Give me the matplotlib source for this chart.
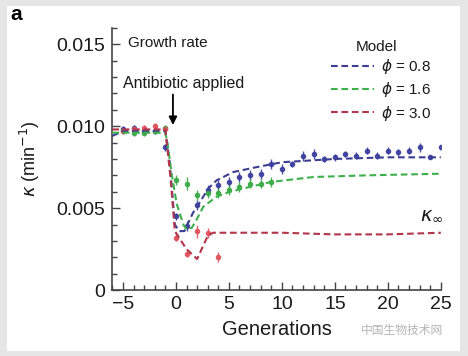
import matplotlib
matplotlib.use("Agg")
import matplotlib.pyplot as plt
from matplotlib.patches import Rectangle
from matplotlib.ticker import MultipleLocator

plt.rcParams['font.family'] = ['Liberation Sans', 'DejaVu Sans']
plt.rcParams['mathtext.fontset'] = 'dejavusans'

# ---- data ----
blue_gen = [-5, -4, -3, -2, -1, 0, 1, 2, 3, 4, 5, 6, 7, 8, 9, 10, 11, 12, 13, 14, 15,
            16, 17, 18, 19, 20, 21, 22, 23, 24, 25]
blue_val = [0.0098, 0.0099, 0.0097, 0.0097, 0.0087, 0.0045, 0.0039, 0.0052, 0.0061, 0.0064,
            0.0066, 0.0069, 0.0070, 0.0071, 0.0077, 0.0074, 0.0077, 0.0082, 0.0083, 0.0080,
            0.0081, 0.0083, 0.0082, 0.0085, 0.0082, 0.0085, 0.0084, 0.0085, 0.0087, 0.0081, 0.0087]
blue_err = [0.0002, 0.0002, 0.0002, 0.0002, 0.0002, 0.0002, 0.0003, 0.0003, 0.0003, 0.0003,
            0.0003, 0.0003, 0.0003, 0.0003, 0.0003, 0.0003, 0.0002, 0.0003, 0.0003, 0.0002,
            0.0002, 0.0002, 0.0002, 0.0002, 0.0002, 0.0002, 0.0002, 0.0002, 0.0003, 0.0001, 0.0002]

green_gen = [-5, -4, -3, -2, -1, 0, 1, 2, 3, 4, 5, 6, 7, 8, 9]
green_val = [0.0097, 0.0096, 0.0096, 0.0097, 0.0099, 0.0067, 0.0065, 0.0058, 0.0059, 0.0059,
             0.0061, 0.0063, 0.0065, 0.0065, 0.0066]
green_err = [0.0002, 0.0002, 0.0002, 0.0002, 0.0002, 0.0003, 0.0004, 0.0003, 0.0003, 0.0003,
             0.0003, 0.0003, 0.0003, 0.0003, 0.0003]

red_gen = [-5, -4, -3, -2, -1, 0, 1, 2, 3, 4]
red_val = [0.0097, 0.0098, 0.0099, 0.0100, 0.0098, 0.0032, 0.0022, 0.0036, 0.0035, 0.0020]
red_err = [0.0002, 0.0002, 0.0002, 0.0002, 0.0002, 0.0002, 0.0002, 0.0004, 0.0003, 0.0003]

# model curves
m08_gen = [-6, -5, -4, -3, -2, -1, -0.6, -0.1, 0.3, 0.8, 1.6, 2.3, 3.05, 3.85, 5.4, 7.6, 10, 15, 20, 25]
m08_val = [0.0094, 0.0097, 0.0097, 0.0097, 0.0097, 0.0097, 0.0079, 0.0040, 0.0036, 0.0036,
           0.0047, 0.0054, 0.0062, 0.0067, 0.0072, 0.0075, 0.0078, 0.0080, 0.0081, 0.0081]
m16_gen = [-6, -5, -4, -3, -2, -1, -0.8, -0.4, 0.06, 0.7, 1.0, 1.5, 1.95, 2.6, 3.85, 5.1, 7, 9, 13, 18, 25]
m16_val = [0.0096, 0.0096, 0.0096, 0.0096, 0.0096, 0.0096, 0.0090, 0.0071, 0.0053, 0.0040,
           0.0037, 0.0038, 0.0043, 0.0051, 0.0057, 0.0060, 0.0063, 0.0066, 0.0069, 0.0070, 0.0071]
m30_gen = [-6, -5, -4, -3, -2, -1, -0.5, -0.1, 1, 2, 3, 3.5, 5, 10, 15, 20, 25]
m30_val = [0.0098, 0.0098, 0.0098, 0.0098, 0.0098, 0.0098, 0.0068, 0.0036, 0.0025, 0.0019,
           0.0033, 0.0035, 0.0035, 0.0035, 0.0034, 0.0034, 0.0035]

model_labels = [r'$\phi$ = 0.8', r'$\phi$ = 1.6', r'$\phi$ = 3.0']

line_cols = ['#3c3f91', '#3db04b', '#b3354b']
pt_cols = ['#3a3f9e', '#39a845', '#e0525c']

# ---- figure ----
fig = plt.figure(figsize=(4.68, 3.56), dpi=100)
fig.patch.set_facecolor('#e6e6e6')
fig.patches.append(Rectangle((7/468, 5/356), 453/468, 345/356, transform=fig.transFigure,
                             facecolor='white', edgecolor='none', zorder=-10))

ax = fig.add_axes([0.240, 0.185, 0.702, 0.737])
ax.set_facecolor('none')
ax.set_zorder(2)

for g, v, e, c in [(blue_gen, blue_val, blue_err, pt_cols[0]),
                   (green_gen, green_val, green_err, pt_cols[1]),
                   (red_gen, red_val, red_err, pt_cols[2])]:
    ax.errorbar(g, v, yerr=e, fmt='o', color=c, ms=3.0, elinewidth=1.0, capsize=0,
                alpha=0.9, zorder=3)

handles = []
for g, v, c, lab in [(m08_gen, m08_val, line_cols[0], model_labels[0]),
                     (m16_gen, m16_val, line_cols[1], model_labels[1]),
                     (m30_gen, m30_val, line_cols[2], model_labels[2])]:
    h, = ax.plot(g, v, color=c, lw=1.5, ls=(0, (3.2, 1.8)), label=lab, zorder=4)
    handles.append(h)

ax.set_xlim(-6, 25)
ax.set_ylim(0, 0.016)
ax.set_xticks([-5, 0, 5, 10, 15, 20, 25])
ax.set_xticklabels(['\u22125', '0', '5', '10', '15', '20', '25'])
ax.set_yticks([0, 0.005, 0.010, 0.015])
ax.set_yticklabels(['0', '0.005', '0.010', '0.015'])
ax.xaxis.set_minor_locator(MultipleLocator(1))
ax.yaxis.set_minor_locator(MultipleLocator(0.001))
ax.tick_params(which='both', direction='in', color='#444444', width=1.0, labelsize=14,
               labelcolor='#1a1a1a')
ax.tick_params(which='major', length=6)
ax.tick_params(which='minor', length=3.5)
ax.tick_params(axis='y', pad=5)
ax.tick_params(axis='x', pad=4)
for s in ['top', 'right']:
    ax.spines[s].set_visible(False)
for s in ['left', 'bottom']:
    ax.spines[s].set_color('#444444')
    ax.spines[s].set_linewidth(1.2)

ax.set_xlabel('Generations', fontsize=14.5, color='#1a1a1a', labelpad=5)
ax.set_ylabel(r'$\kappa$ (min$^{-1}$)', fontsize=13, color='#1a1a1a')
ax.yaxis.set_label_coords(-0.215, 0.5)

ax.text(-4.5, 0.01506, 'Growth rate', fontsize=11, ha='left', va='center', color='#1a1a1a')
ax.text(-5.0, 0.01262, 'Antibiotic applied', fontsize=11.5, ha='left', va='center', color='#1a1a1a')
ax.annotate('', xy=(-0.28, 0.0099), xytext=(-0.28, 0.0121),
            arrowprops=dict(arrowstyle='-|>', color='black', lw=1.3, mutation_scale=12))
ax.text(24.1, 0.0046, r'$\kappa_\infty$', fontsize=14, ha='center', va='center', color='#1a1a1a')

ax.text(0.803, 0.926, 'Model', transform=ax.transAxes, fontsize=11, ha='center',
        va='center', color='#1a1a1a')
leg = ax.legend(handles=handles, loc='upper right',
                bbox_to_anchor=(0.97, 0.888), frameon=False, fontsize=11,
                handlelength=2.85, handletextpad=0.45,
                labelspacing=0.28, borderpad=0, borderaxespad=0)
for t in leg.get_texts():
    t.set_color('#1a1a1a')

fig.text(10/468, 1 - 20/356, 'a', fontsize=15, fontweight='bold', ha='left', va='baseline')
fig.text(443/468, 1 - 330/356, '中国生物技术网', fontsize=8.5,
         family=['Noto Sans CJK SC', 'DejaVu Sans'], color='#b5b5b5', ha='right', va='center')

fig.savefig('out.png', dpi=100, facecolor=fig.get_facecolor())
